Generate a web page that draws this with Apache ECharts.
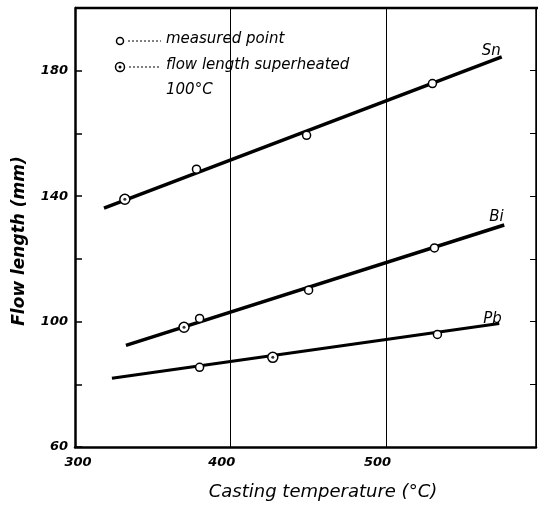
<!DOCTYPE html>
<html>
<head>
<meta charset="utf-8">
<script src="https://cdn.jsdelivr.net/npm/echarts@6/dist/echarts.min.js"></script>
<style>
  html, body { margin: 0; padding: 0; background: #fff; }
  #chart { width: 539px; height: 510px; }
</style>
</head>
<body>
<div id="chart"></div>
<script>
// fitted lines (two end points each)
const snFit = [[318.6, 136.2], [574, 184.4]];
const biFit = [[332.7, 92.4], [575.6, 130.8]];
const pbFit = [[323.7, 81.9], [572.4, 99.4]];

// measured points
const snMeasured = [[378, 148.6], [448.7, 159.4], [529.5, 175.9]];
const biMeasured = [[380, 101], [450, 110], [530.8, 123.5]];
const pbMeasured = [[380, 85.4], [532.7, 95.9]];

// flow length superheated 100°C
const snSuperheated = [[332, 139]];
const biSuperheated = [[370, 98.2]];
const pbSuperheated = [[427, 88.6]];

const metalNames = ["Sn", "Bi", "Pb"];

const FONT = "'DejaVu Sans', sans-serif";
const chart = echarts.init(document.getElementById("chart"));

function fitSeries(name, data, width, offset) {
  return {
    name: name,
    type: "line",
    data: data,
    symbol: "none",
    lineStyle: { color: "#000", width: width },
    endLabel: {
      show: true,
      formatter: name,
      color: "#000",
      fontFamily: FONT,
      fontStyle: "italic",
      fontSize: 15,
      offset: offset,
    },
    z: 2,
    animation: false,
  };
}

function pointSeries(data, size) {
  return {
    type: "scatter",
    data: data,
    symbol: "circle",
    symbolSize: size,
    itemStyle: { color: "#fff", borderColor: "#000", borderWidth: 1.5, opacity: 1 },
    z: 3,
    animation: false,
  };
}

function dotSeries(data) {
  return {
    type: "scatter",
    data: data,
    symbol: "circle",
    symbolSize: 3,
    itemStyle: { color: "#000" },
    z: 4,
    animation: false,
  };
}

const legendFont = "italic 15px 'DejaVu Sans', sans-serif";

const option = {
  backgroundColor: "#fff",
  grid: { left: 75, top: 8, right: 1, bottom: 63 },
  xAxis: {
    type: "value",
    min: 300,
    max: 596,
    interval: 100,
    axisLine: { show: true, lineStyle: { color: "#000", width: 2.5 } },
    axisTick: { show: false },
    axisLabel: {
      color: "#000", fontFamily: FONT, fontStyle: "italic", fontWeight: "bold", fontSize: 13,
      margin: 9,
      formatter: (v) => (v === 300 ? "{a|300}" : v % 100 === 0 ? "{b|" + v + "}" : ""),
      rich: {
        a: { color: "#000", fontFamily: FONT, fontStyle: "italic", fontWeight: "bold", fontSize: 13, padding: [0, 0, 0, 6] },
        b: { color: "#000", fontFamily: FONT, fontStyle: "italic", fontWeight: "bold", fontSize: 13, padding: [0, 18, 0, 0] },
      },
    },
    splitLine: { show: true, lineStyle: { color: "#000", width: 1 } },
  },
  yAxis: [
    {
      type: "value",
      min: 60,
      max: 200,
      interval: 20,
      axisLine: { show: true, lineStyle: { color: "#000", width: 2.5 } },
      axisTick: { show: true, inside: true, length: 7, lineStyle: { color: "#000", width: 1.5 } },
      axisLabel: {
        color: "#000", fontFamily: FONT, fontStyle: "italic", fontWeight: "bold", fontSize: 13,
        margin: 7,
        formatter: (v) => ((v - 60) % 40 === 0 && v < 200 ? String(v) : ""),
      },
      splitLine: { show: false },
    },
    {
      type: "value",
      min: 60,
      max: 200,
      interval: 20,
      position: "right",
      axisLine: { show: true, lineStyle: { color: "#000", width: 1.5 } },
      axisTick: { show: true, inside: true, length: 6, lineStyle: { color: "#000", width: 1 } },
      axisLabel: { show: false },
      splitLine: { show: false },
    },
  ],
  graphic: [
    // top border
    { type: "line", shape: { x1: 75, y1: 8, x2: 538, y2: 8 }, style: { stroke: "#000", lineWidth: 2.5 }, z: 5 },
    // axis titles
    {
      type: "text", x: 20, y: 241, rotation: Math.PI / 2, z: 5,
      style: {
        text: "Flow length (mm)", fill: "#000", align: "center", verticalAlign: "middle",
        font: "italic bold 17px 'DejaVu Sans', sans-serif",
      },
    },
    {
      type: "text", x: 323, y: 492, z: 5,
      style: {
        text: "Casting temperature (°C)", fill: "#000", align: "center", verticalAlign: "middle",
        font: "italic 18px 'DejaVu Sans', sans-serif",
      },
    },
    // legend
    { type: "circle", shape: { cx: 120, cy: 41, r: 3.5 }, style: { fill: "#fff", stroke: "#000", lineWidth: 1.5 }, z: 5 },
    { type: "line", shape: { x1: 128, y1: 41, x2: 161, y2: 41 }, style: { stroke: "#000", lineWidth: 1, lineDash: [2, 2] }, z: 5 },
    { type: "text", left: 166, top: 32, z: 5, style: { text: "measured point", fill: "#000", font: legendFont } },
    { type: "circle", shape: { cx: 120, cy: 67, r: 4.5 }, style: { fill: "#fff", stroke: "#000", lineWidth: 1.5 }, z: 5 },
    { type: "circle", shape: { cx: 120, cy: 67, r: 1.5 }, style: { fill: "#000" }, z: 6 },
    { type: "line", shape: { x1: 129, y1: 67, x2: 161, y2: 67 }, style: { stroke: "#000", lineWidth: 1, lineDash: [2, 2] }, z: 5 },
    { type: "text", left: 166, top: 58, z: 5, style: { text: "flow length superheated", fill: "#000", font: legendFont } },
    { type: "text", left: 166, top: 83, z: 5, style: { text: "100°C", fill: "#000", font: legendFont } },
  ],
  series: [
    fitSeries(metalNames[0], snFit, 3.5, [-28, -6]),
    fitSeries(metalNames[1], biFit, 3.5, [-23, -8]),
    fitSeries(metalNames[2], pbFit, 3, [-24, -4]),
    pointSeries(snMeasured, 8),
    pointSeries(biMeasured, 8),
    pointSeries(pbMeasured, 8),
    pointSeries(snSuperheated, 10),
    pointSeries(biSuperheated, 10),
    pointSeries(pbSuperheated, 10),
    dotSeries(snSuperheated),
    dotSeries(biSuperheated),
    dotSeries(pbSuperheated),
  ],
};

chart.setOption(option);
</script>
</body>
</html>
